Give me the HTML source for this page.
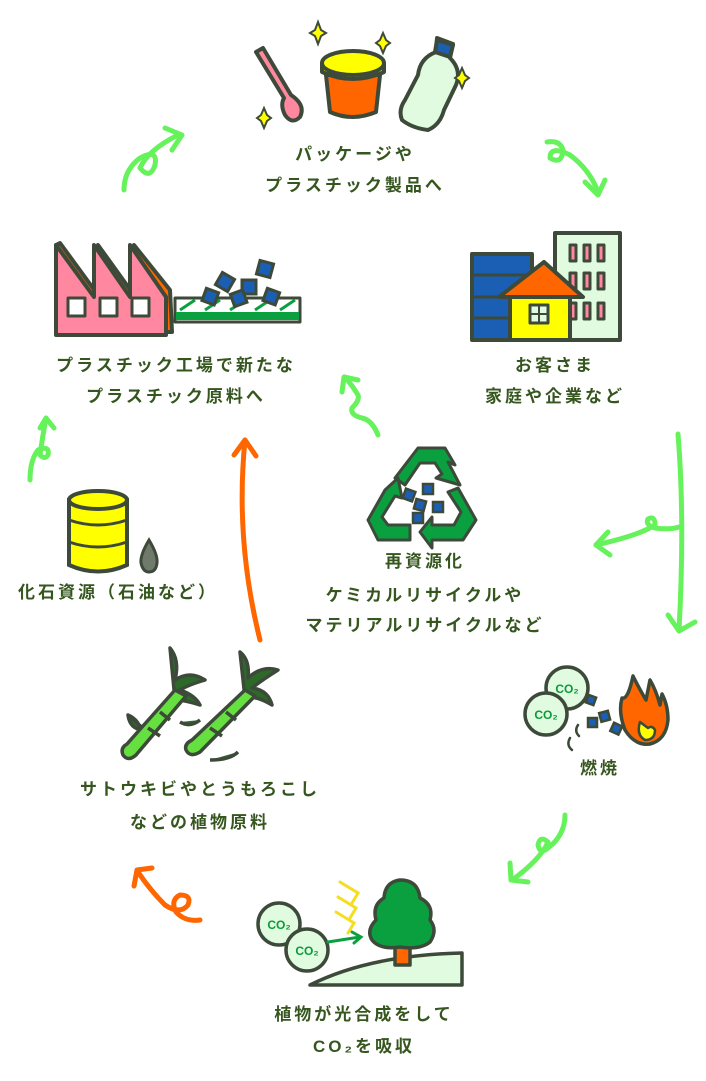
<!DOCTYPE html>
<html><head><meta charset="utf-8"><style>
body{margin:0;background:#fff;}
svg{display:block}
text{font-family:"Liberation Sans","Noto Sans CJK JP",sans-serif;font-weight:bold;fill:#36561f;font-size:17px;letter-spacing:3px;text-anchor:middle}
.co{font-size:12px;letter-spacing:0;fill:#0a9a3a}
</style></head><body>
<svg width="706" height="1081" viewBox="0 0 706 1081" xmlns="http://www.w3.org/2000/svg">
<g stroke="#3d4a3a" stroke-width="4" stroke-linejoin="round" stroke-linecap="round">
<!-- top products -->
<path d="M256 52 L263 48 L291 95 Q306 105 300 117 Q292 125 285 115 Q280 105 284 98 Z" fill="#ff88a0"/>
<path d="M326 75 L330 112 Q352 122 376 112 L380 75 Z" fill="#ff6600"/>
<path d="M322 64 V72 Q353 86 384 72 V64 Z" fill="#ffff00"/>
<ellipse cx="353" cy="63" rx="31" ry="12" fill="#ffff00"/>
<path d="M437 38 L453 44 L450 58 Q462 70 456 85 L444 110 Q440 125 428 130 Q412 128 402 120 Q398 110 405 100 L418 75 Q420 58 436 52 Z" fill="#e0fbe0"/>
<path d="M437 40 L453 45 L450 57 L435 52 Z" fill="#1a5fb4"/>
</g>
<g fill="#ffff00" stroke="#3d4a3a" stroke-width="2">
<path d="M318 22 l3 8 l5 3 l-5 3 l-3 8 l-3-8 l-5-3 l5-3z"/>
<path d="M383 33 l3 7 l4 3 l-4 3 l-3 7 l-3-7 l-4-3 l4-3z"/>
<path d="M462 68 l3 7 l4 3 l-4 3 l-3 7 l-3-7 l-4-3 l4-3z"/>
<path d="M264 108 l3 7 l4 3 l-4 3 l-3 7 l-3-7 l-4-3 l4-3z"/>
</g>
<text x="355" y="160">パッケージや</text>
<text x="355" y="191">プラスチック製品へ</text>

<!-- green arrows -->
<g fill="none" stroke="#66f25a" stroke-width="5" stroke-linecap="round" stroke-linejoin="round">
<path d="M124 190 Q124 170 140 158 Q158 148 155 165 Q150 180 140 168 Q148 150 178 135"/>
<path d="M165 128 L182 135 L172 150"/>
<path d="M547 142 Q560 140 563 150 Q562 165 550 158 Q550 145 570 155 Q590 170 598 192"/>
<path d="M585 182 L598 195 L605 180"/>
<path d="M30 480 Q30 460 38 450 Q50 445 48 455 Q45 460 40 455 Q42 440 46 418"/>
<path d="M40 428 L46 418 L54 428"/>
<path d="M378 435 Q372 420 362 418 Q350 415 352 408 Q360 400 358 395 Q352 385 345 377"/>
<path d="M342 392 L344 377 L358 380"/>
<path d="M678 434 Q685 520 679 630"/>
<path d="M668 615 L679 631 L695 622"/>
<path d="M679 527 Q670 530 655 528 Q645 525 648 519 Q655 515 655 525 Q640 535 596 545"/>
<path d="M608 532 L596 545 L610 555"/>
<path d="M565 815 Q565 835 548 848 Q540 855 538 845 Q540 835 548 842 Q540 860 512 880"/>
<path d="M510 863 L511 880 L528 882"/>
</g>
<g fill="none" stroke="#ff6600" stroke-width="5" stroke-linecap="round" stroke-linejoin="round">
<path d="M260 640 Q235 540 245 440"/>
<path d="M234 455 L245 440 L256 456"/>
<path d="M200 920 Q185 922 176 912 Q170 900 180 895 Q192 895 188 905 Q180 915 165 905 Q150 890 138 872"/>
<path d="M134 886 L137 870 L152 868"/>
</g>

<!-- factory -->
<g stroke="#3d4a3a" stroke-width="4" stroke-linejoin="round">
<path d="M56 245 L60 243 L98 295 L98 245 L134 295 L134 245 L170 290 L172 332 L56 332 Z" fill="#ff6600"/>
<path d="M56 245 L94 297 L94 245 L130 297 L130 245 L166 297 L166 335 L56 335 Z" fill="#ff88a0"/>
<rect x="68" y="298" width="17" height="18" fill="#fff" stroke-width="3"/>
<rect x="100" y="298" width="17" height="18" fill="#fff" stroke-width="3"/>
<rect x="132" y="298" width="17" height="18" fill="#fff" stroke-width="3"/>
<rect x="175" y="298" width="125" height="24" fill="#fff" stroke-width="3"/>
<rect x="176" y="312" width="123" height="8" fill="#0aa040" stroke="none"/>
</g>
<g stroke="#0aa040" stroke-width="3"><path d="M180 310 L195 300 M205 310 L220 300 M230 310 L245 300 M255 310 L270 300 M280 310 L295 300"/></g>
<g fill="#1a5fb4" stroke="#3d4a3a" stroke-width="3">
<rect x="258" y="262" width="14" height="14" transform="rotate(15 265 269)"/>
<rect x="218" y="275" width="14" height="14" transform="rotate(30 225 282)"/>
<rect x="242" y="280" width="14" height="14"/>
<rect x="204" y="290" width="13" height="13" transform="rotate(20 210 296)"/>
<rect x="232" y="292" width="13" height="13" transform="rotate(-20 238 298)"/>
<rect x="265" y="290" width="13" height="13" transform="rotate(20 271 296)"/>
</g>
<text x="176" y="371">プラスチック工場で新たな</text>
<text x="176" y="402">プラスチック原料へ</text>

<!-- buildings -->
<g stroke="#3d4a3a" stroke-width="4" stroke-linejoin="round">
<rect x="555" y="233" width="65" height="107" fill="#e0fbe0"/>
<rect x="472" y="254" width="60" height="86" fill="#1a5fb4"/>
<path d="M472 275 H532 M472 297 H532 M472 318 H532" stroke-width="3"/>
<g fill="#ff88a0" stroke-width="3"><rect x="570" y="245" width="6" height="16"/><rect x="584" y="245" width="6" height="16"/><rect x="598" y="245" width="6" height="16"/>
<rect x="570" y="273" width="6" height="16"/><rect x="584" y="273" width="6" height="16"/><rect x="598" y="273" width="6" height="16"/>
<rect x="570" y="303" width="6" height="16"/><rect x="584" y="303" width="6" height="16"/><rect x="598" y="303" width="6" height="16"/></g>
<rect x="510" y="295" width="60" height="45" fill="#ffff00"/>
<path d="M499 297 L544 262 L583 297 Z" fill="#ff6600"/>
<rect x="530" y="305" width="18" height="18" fill="#e0fbe0" stroke-width="3"/>
<path d="M539 305 V323 M530 314 H548" stroke-width="2"/>
</g>
<text x="555" y="371">お客さま</text>
<text x="555" y="402">家庭や企業など</text>

<!-- recycle -->
<g fill="#0aa040" stroke="#3d4a3a" stroke-width="3" stroke-linejoin="round">
<path d="M395 478 L418 448 L445 448 L455 465 L448 462 L460 485 L436 478 L442 474 L435 463 L420 463 L405 485 Z"/>
<path d="M458 488 L476 520 L463 540 L432 540 L432 548 L420 532 L432 517 L432 525 L454 525 L461 512 L448 492 Z"/>
<path d="M385 490 L368 520 L378 540 L410 540 L410 525 L388 525 L382 517 L395 496 L402 498 L398 478 Z"/>
</g>
<g fill="#1a5fb4" stroke="#3d4a3a" stroke-width="2.5">
<rect x="404" y="490" width="10" height="10" transform="rotate(20 409 495)"/>
<rect x="423" y="484" width="10" height="10"/>
<rect x="415" y="500" width="10" height="10" transform="rotate(15 420 505)"/>
<rect x="433" y="502" width="10" height="10"/>
<rect x="413" y="513" width="10" height="10"/>
</g>
<text x="425" y="567">再資源化</text>
<text x="425" y="601">ケミカルリサイクルや</text>
<text x="425" y="631">マテリアルリサイクルなど</text>

<!-- barrel -->
<g stroke="#3d4a3a" stroke-width="4">
<path d="M69 500 V565 Q98 578 127 565 V500 Z" fill="#ffff00"/>
<ellipse cx="98" cy="500" rx="29" ry="9" fill="#ffff00"/>
<path d="M69 520 Q98 530 127 520 M69 542 Q98 552 127 542" fill="none" stroke-width="3"/>
<path d="M149 540 Q140 555 141 563 Q143 572 149 572 Q156 572 157 563 Q158 555 149 540 Z" fill="#6f7a6c" stroke-width="3"/>
</g>
<text x="118" y="598">化石資源（石油など）</text>

<!-- sugarcane -->
<g stroke="#3d4a3a" stroke-width="3.5" stroke-linejoin="round">
<path d="M170 648 Q180 660 175 680 Q190 670 205 680 Q188 685 180 690 Q195 695 200 705 Q185 700 175 700 Z" fill="#2d6a2a"/>
<path d="M240 652 Q250 660 248 678 Q262 665 278 670 Q262 680 252 688 Q268 690 272 705 Q255 695 245 698 Z" fill="#2d6a2a"/>
<path d="M128 715 Q140 720 142 735 M200 720 Q190 728 180 722 M210 760 Q230 760 238 752 M145 730 Q130 730 128 715 Z" fill="#2d6a2a"/>
<path d="M175 690 L186 696 L136 755 Q128 762 123 755 Q120 748 127 744 Z" fill="#66e040"/>
<path d="M245 690 L255 696 L200 752 Q190 758 186 750 Q184 744 192 740 Z" fill="#66e040"/>
<path d="M160 712 L170 720 M148 728 L160 736 M226 712 L236 720 M210 728 L222 736" fill="none"/>
</g>
<text x="200" y="795">サトウキビやとうもろこし</text>
<text x="200" y="828">などの植物原料</text>

<!-- combustion -->
<g stroke="#3d4a3a" stroke-width="3.5" stroke-linejoin="round">
<circle cx="567" cy="688" r="21" fill="#e0fbe0"/>
<circle cx="546" cy="714" r="21" fill="#e0fbe0"/>
<path d="M633 676 Q628 700 622 698 Q618 712 625 730 Q635 746 650 744 Q666 740 668 720 Q668 705 662 694 L660 705 Q656 690 650 680 L646 700 Q640 690 633 676 Z" fill="#ff6600"/>
<path d="M640 722 Q636 735 645 740 Q655 740 655 730 Q652 725 648 728 Z" fill="#ffff00" stroke-width="2.5"/>
</g>
<g fill="#1a5fb4" stroke="#3d4a3a" stroke-width="2.5">
<rect x="587" y="696" width="8" height="8" transform="rotate(20 591 700)"/>
<rect x="600" y="712" width="9" height="9" transform="rotate(-15 604 716)"/>
<rect x="588" y="718" width="9" height="9"/>
<rect x="612" y="724" width="9" height="9" transform="rotate(25 616 728)"/>
</g>
<path d="M578 725 Q574 731 579 736 M570 738 Q566 745 572 750" fill="none" stroke="#3d4a3a" stroke-width="2.5" stroke-linecap="round"/>
<text class="co" x="567" y="693">CO₂</text>
<text class="co" x="546" y="719">CO₂</text>
<text x="600" y="774">燃焼</text>

<!-- photosynthesis -->
<g stroke="#3d4a3a" stroke-width="3.5" stroke-linejoin="round">
<path d="M310 985 Q370 955 462 953 V985 Z" fill="#e0fbe0"/>
<rect x="395" y="945" width="15" height="20" fill="#ff6600"/>
<path d="M400 880 Q385 882 384 898 Q372 905 376 920 Q366 930 372 940 Q380 950 400 947 Q420 950 430 942 Q438 930 430 920 Q434 905 420 898 Q418 880 400 880 Z" fill="#0aa040"/>
<circle cx="279" cy="924" r="21" fill="#e0fbe0"/>
<circle cx="307" cy="950" r="21" fill="#e0fbe0"/>
</g>
<text class="co" x="279" y="929">CO₂</text>
<text class="co" x="307" y="955">CO₂</text>
<path d="M328 942 L360 937 M352 932 L361 937 L354 943" fill="none" stroke="#0aa040" stroke-width="3" stroke-linecap="round"/>
<path d="M340 882 L358 893 L352 903 M338 897 L356 908 L350 918 M336 912 L354 923 L348 933" fill="none" stroke="#f5dd20" stroke-width="3" stroke-linecap="round"/>
<text x="364" y="1020">植物が光合成をして</text>
<text x="364" y="1052">CO₂を吸収</text>
</svg>
</body></html>
